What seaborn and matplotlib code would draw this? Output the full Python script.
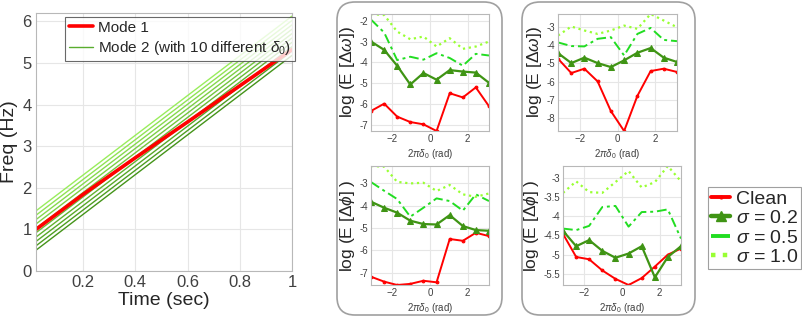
import numpy as np
import pandas as pd
import seaborn as sns
import matplotlib.pyplot as plt
from matplotlib.patches import FancyBboxPatch
from matplotlib.lines import Line2D
from matplotlib.transforms import IdentityTransform

# ---- data ----
time_pts = [0.02, 0.2, 0.4, 0.6, 0.8, 1.0]
mode1_freq = [1.0, 1.84, 2.72, 3.58, 4.45, 5.32]

mode2_t = [0.02, 1.0]
mode2_start = [0.50, 0.605, 0.71, 0.815, 0.92, 1.025, 1.13, 1.235, 1.34, 1.445]
mode2_end = [5.18, 5.285, 5.39, 5.495, 5.60, 5.705, 5.81, 5.915, 6.02, 6.125]

phase = [-3.14, -2.44, -1.75, -1.05, -0.35, 0.35, 1.05, 1.75, 2.44, 3.14]

# top-left: log E[dw]
dw1_clean = [-6.33, -5.98, -6.60, -6.86, -6.97, -7.29, -5.48, -5.68, -5.20, -6.10]
dw1_s02 = [-3.00, -3.40, -4.16, -5.06, -4.51, -4.83, -4.37, -4.44, -4.49, -4.98]
dw1_s05 = [-1.95, -2.57, -3.89, -3.73, -3.87, -3.56, -3.79, -4.16, -3.59, -3.67]
dw1_s10 = [-1.68, -1.73, -2.52, -2.89, -2.76, -3.24, -2.84, -3.35, -3.24, -3.00]

# bottom-left: log E[dphi]
dp1_clean = [-7.18, -7.40, -7.55, -7.50, -7.36, -7.43, -5.49, -5.57, -5.21, -5.36]
dp1_s02 = [-3.82, -4.09, -4.31, -4.67, -4.82, -4.84, -4.42, -4.91, -5.09, -5.12]
dp1_s05 = [-2.94, -3.33, -3.70, -4.49, -4.09, -3.67, -3.79, -4.22, -3.49, -3.79]
dp1_s10 = [-2.22, -2.25, -2.93, -3.00, -2.97, -3.34, -3.07, -3.49, -3.60, -3.45]

# top-right: log E[dw]
dw2_clean = [-4.74, -5.53, -5.29, -5.99, -7.63, -8.73, -6.79, -5.42, -5.29, -5.47]
dw2_s02 = [-4.43, -4.98, -4.68, -4.98, -5.20, -4.83, -4.41, -4.15, -4.68, -4.92]
dw2_s05 = [-3.84, -4.04, -4.06, -3.64, -3.55, -4.56, -3.37, -3.04, -3.70, -3.77]
dw2_s10 = [-3.46, -2.96, -3.18, -3.37, -3.18, -2.91, -3.09, -2.27, -2.63, -3.00]

# bottom-right: log E[dphi]
dp2_clean = [-4.46, -5.06, -5.12, -5.41, -5.63, -5.79, -5.61, -5.31, -5.00, -4.84]
dp2_s02 = [-4.38, -4.78, -4.62, -4.90, -5.08, -4.97, -4.78, -5.59, -5.06, -4.78]
dp2_s05 = [-4.32, -4.36, -4.25, -3.76, -3.73, -4.27, -3.89, -3.88, -3.82, -4.58]
dp2_s10 = [-3.39, -3.09, -3.37, -3.39, -3.11, -2.82, -3.25, -3.11, -2.69, -3.09]

case_names = ["Clean", r"$\sigma$ = 0.2", r"$\sigma$ = 0.5", r"$\sigma$ = 1.0"]

# ---- style ----
sns.set_style("whitegrid", {"grid.color": "#e6e6e6", "axes.edgecolor": "#b8b8b8"})
plt.rcParams["font.family"] = ["Liberation Sans", "DejaVu Sans"]
plt.rcParams["mathtext.fontset"] = "custom"
plt.rcParams["mathtext.rm"] = "Liberation Sans"
plt.rcParams["mathtext.it"] = "Liberation Sans:italic"
plt.rcParams["axes.linewidth"] = 0.8
plt.rcParams["xtick.color"] = "#404040"
plt.rcParams["ytick.color"] = "#404040"

W, H = 802, 319
fig = plt.figure(figsize=(W / 100, H / 100), dpi=100)


def px_axes(x0, y0, x1, y1):
    return fig.add_axes([x0 / W, 1 - y1 / H, (x1 - x0) / W, (y1 - y0) / H])


# ---- left chart ----
ax = px_axes(36, 13, 292, 271)
g_dark = np.array([0.27, 0.58, 0.10])
g_light = np.array([0.60, 0.93, 0.36])
for i, (s, e) in enumerate(zip(mode2_start, mode2_end)):
    c = g_dark + (g_light - g_dark) * i / 9
    sns.lineplot(x=mode2_t, y=[s, e], ax=ax, color=c, lw=1.0, legend=False)
sns.lineplot(x=time_pts, y=mode1_freq, ax=ax, color="red", lw=2.6, legend=False)
ax.set_xlim(0.02, 1.0)
ax.set_ylim(0, 6.2)
ax.set_xticks([0.2, 0.4, 0.6, 0.8, 1.0])
ax.set_xticklabels(["0.2", "0.4", "0.6", "0.8", "1"])
ax.set_yticks(range(7))
ax.tick_params(labelsize=12, length=0, pad=3)
ax.set_xlabel("Time (sec)", fontsize=14, labelpad=1, color="#262626")
ax.set_ylabel("Freq (Hz)", fontsize=14, labelpad=3, color="#262626")
h1 = Line2D([], [], color="red", lw=2.6)
h2 = Line2D([], [], color=(0.35, 0.68, 0.18), lw=1.0)
leg = ax.legend([h1, h2], ["Mode 1", r"Mode 2 (with 10 different $\delta_0$)"],
                loc="upper left", bbox_to_anchor=(0.113, 0.985), borderaxespad=0,
                fontsize=11, frameon=True, fancybox=False, handlelength=1.6,
                handletextpad=0.3, borderpad=0.25, labelspacing=0.3)
leg.get_frame().set_edgecolor("#444444")
leg.get_frame().set_linewidth(0.8)

# ---- small panels ----
styles = [
    dict(color="red", ls="-", marker=".", ms=4, lw=1.4),
    dict(color="#3f9414", ls="-", marker="^", ms=4, lw=1.6),
    dict(color="#22dd22", ls=(0, (5, 2, 1.5, 2)), marker=None, ms=0, lw=1.4),
    dict(color="#99ff33", ls=":", marker=None, ms=0, lw=1.6),
]

panels = [
    ((371, 14, 489, 131), [dw1_clean, dw1_s02, dw1_s05, dw1_s10],
     r"log (E [$\Delta\omega$])", [-7, -6, -5, -4, -3, -2]),
    ((371, 166, 489, 285), [dp1_clean, dp1_s02, dp1_s05, dp1_s10],
     r"log (E [$\Delta\phi$] )", [-7, -6, -5, -4, -3]),
    ((558, 14, 677, 131), [dw2_clean, dw2_s02, dw2_s05, dw2_s10],
     r"log (E [$\Delta\omega$])", [-8, -7, -6, -5, -4, -3]),
    ((563, 166, 681, 285), [dp2_clean, dp2_s02, dp2_s05, dp2_s10],
     r"log (E [$\Delta\phi$] )", [-5.5, -5, -4.5, -4, -3.5, -3]),
]

for rect, series, ylab, yt in panels:
    a = px_axes(*rect)
    for vals, st in zip(series, styles):
        sns.lineplot(x=phase, y=vals, ax=a, color=st["color"], linestyle=st["ls"],
                     marker=st["marker"], markersize=st["ms"], lw=st["lw"],
                     markeredgecolor=st["color"], legend=False)
    allv = np.concatenate(series)
    a.set_ylim(allv.min(), allv.max())
    a.set_xlim(-np.pi, np.pi)
    a.set_xticks([-2, 0, 2])
    a.set_yticks(yt)
    a.set_yticklabels([f"{v:g}" for v in yt])
    a.tick_params(labelsize=7, length=0, pad=2)
    a.set_xlabel(r"$2\pi\delta_0$ (rad)", fontsize=7, labelpad=2, color="#404040")
    a.set_ylabel(ylab, fontsize=12.5, labelpad=2, color="#262626")

# rounded group frames
for x0, x1 in [(337, 502), (522, 695)]:
    box = FancyBboxPatch((x0, H - 315), x1 - x0, 313,
                         boxstyle="round,pad=0,rounding_size=18",
                         transform=IdentityTransform(), facecolor="none",
                         edgecolor="#a0a0a0", lw=1.2)
    fig.add_artist(box)

# shared legend
handles = [Line2D([], [], color=st["color"], ls=st["ls"], marker=st["marker"],
                  ms=st["ms"] * 1.8 if st["marker"] == "^" else st["ms"],
                  lw=st["lw"] * 2) for st in styles]
fl = fig.legend(handles, case_names, loc="upper left",
                bbox_to_anchor=(708 / W, 1 - 187 / H), borderaxespad=0,
                fontsize=14, frameon=True, fancybox=False, handlelength=1.0,
                handletextpad=0.3, borderpad=0.15, labelspacing=0.1)
fl.get_frame().set_edgecolor("#888888")
fl.get_frame().set_linewidth(0.8)

fig.savefig("out.png", dpi=100)
